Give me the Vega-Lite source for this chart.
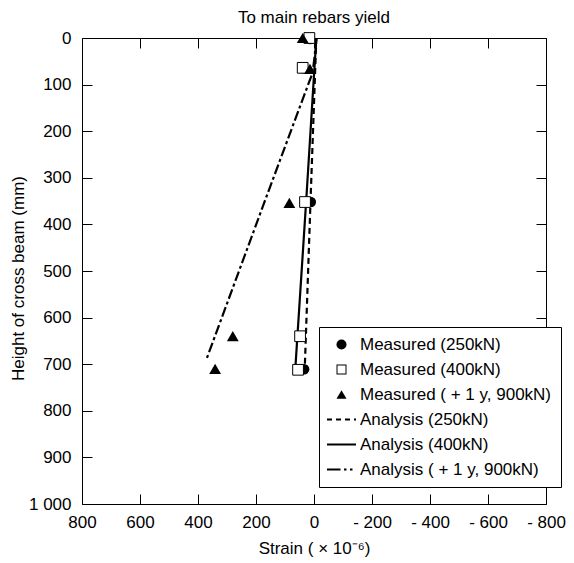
{
  "$schema": "https://vega.github.io/schema/vega-lite/v6.json",
  "width": 464,
  "height": 466,
  "autosize": "none",
  "padding": {"left": 82, "top": 38, "right": 28, "bottom": 59},
  "background": "white",
  "title": {"text": "To main rebars yield", "font": "Liberation Sans", "fontSize": 17, "fontWeight": "normal", "color": "black", "anchor": "middle", "offset": 2},
  "config": {
    "view": {"stroke": null},
    "axis": {"domainColor": "black", "tickColor": "black", "labelColor": "black", "titleColor": "black", "labelFont": "Liberation Sans", "titleFont": "Liberation Sans", "labelFontSize": 17, "titleFontSize": 17, "titleFontWeight": "normal", "grid": false, "tickSize": -10, "domainWidth": 1, "tickWidth": 1, "labelFlush": false}
  },
  "datasets": {
    "analysis": [
      {"series": "Analysis (250kN)", "strain": -8, "h": 0},
      {"series": "Analysis (250kN)", "strain": 12, "h": 350},
      {"series": "Analysis (250kN)", "strain": 32, "h": 712},
      {"series": "Analysis (400kN)", "strain": -8, "h": 0},
      {"series": "Analysis (400kN)", "strain": 27, "h": 350},
      {"series": "Analysis (400kN)", "strain": 64, "h": 705},
      {"series": "Analysis ( + 1 y, 900kN)", "strain": -8, "h": 0},
      {"series": "Analysis ( + 1 y, 900kN)", "strain": -2, "h": 40},
      {"series": "Analysis ( + 1 y, 900kN)", "strain": 5, "h": 75},
      {"series": "Analysis ( + 1 y, 900kN)", "strain": 31, "h": 118},
      {"series": "Analysis ( + 1 y, 900kN)", "strain": 172, "h": 354},
      {"series": "Analysis ( + 1 y, 900kN)", "strain": 370, "h": 688}
    ],
    "measured": [
      {"series": "Measured (250kN)", "strain": 14, "h": 2},
      {"series": "Measured (250kN)", "strain": 38, "h": 65},
      {"series": "Measured (250kN)", "strain": 11, "h": 352},
      {"series": "Measured (250kN)", "strain": 47, "h": 640},
      {"series": "Measured (250kN)", "strain": 34, "h": 711},
      {"series": "Measured (400kN)", "strain": 16, "h": 0},
      {"series": "Measured (400kN)", "strain": 39, "h": 64},
      {"series": "Measured (400kN)", "strain": 31, "h": 352},
      {"series": "Measured (400kN)", "strain": 48, "h": 640},
      {"series": "Measured (400kN)", "strain": 55, "h": 712},
      {"series": "Measured ( + 1 y, 900kN)", "strain": 39, "h": 0},
      {"series": "Measured ( + 1 y, 900kN)", "strain": 14, "h": 66},
      {"series": "Measured ( + 1 y, 900kN)", "strain": 85, "h": 354},
      {"series": "Measured ( + 1 y, 900kN)", "strain": 280, "h": 640},
      {"series": "Measured ( + 1 y, 900kN)", "strain": 341, "h": 710}
    ]
  },
  "resolve": {"axis": {"x": "independent", "y": "independent"}},
  "layer": [
    {
      "data": {"name": "analysis"},
      "mark": {"type": "line", "stroke": "black", "strokeWidth": 2.2},
      "encoding": {
        "x": {"field": "strain", "type": "quantitative", "scale": {"domain": [-800, 800], "reverse": true},
          "axis": {"orient": "bottom", "values": [-800, -600, -400, -200, 0, 200, 400, 600, 800], "labelExpr": "datum.value < 0 ? '- ' + (-datum.value) : '' + datum.value", "title": "Strain ( × 10⁻⁶)", "labelPadding": 20, "titlePadding": 10}},
        "y": {"field": "h", "type": "quantitative", "scale": {"domain": [0, 1000], "reverse": true},
          "axis": {"orient": "left", "values": [0, 100, 200, 300, 400, 500, 600, 700, 800, 900, 1000], "labelExpr": "datum.value == 1000 ? '1 000' : '' + datum.value", "title": "Height of cross beam   (mm)", "labelPadding": 21, "titleX": -55, "titleY": 240}},
        "strokeDash": {"field": "series", "type": "nominal",
          "scale": {"domain": ["Analysis (250kN)", "Analysis (400kN)", "Analysis ( + 1 y, 900kN)"],
            "range": [[6, 4], [1, 0], [10, 3, 3, 3]]},
          "legend": null},
        "order": {"field": "h", "type": "quantitative"}
      }
    },
    {
      "data": {"name": "measured"},
      "transform": [{"filter": "datum.series == 'Measured (250kN)'"}],
      "mark": {"type": "point", "filled": true, "color": "black", "strokeWidth": 0, "size": 110, "opacity": 1},
      "encoding": {
        "x": {"field": "strain", "type": "quantitative",
          "axis": {"orient": "top", "values": [-800, -600, -400, -200, 0, 200, 400, 600, 800], "labels": false, "title": null}},
        "y": {"field": "h", "type": "quantitative",
          "axis": {"orient": "right", "values": [0, 100, 200, 300, 400, 500, 600, 700, 800, 900, 1000], "labels": false, "title": null}},
        "shape": {"field": "series", "type": "nominal",
          "scale": {"domain": ["Measured (250kN)", "Measured (400kN)", "Measured ( + 1 y, 900kN)", "Analysis (250kN)", "Analysis (400kN)", "Analysis ( + 1 y, 900kN)"],
            "range": ["circle", "M-1,-1H1V1H-1Z M-0.8,-0.8V0.8H0.8V-0.8Z", "triangle-up", "M-2.9,-0.22H-1.9V0.22H-2.9Z M-1.1,-0.22H-0.1V0.22H-1.1Z M0.7,-0.22H1.7V0.22H0.7Z M2.5,-0.22H2.9V0.22H2.5Z", "M-2.9,-0.2H2.9V0.2H-2.9Z", "M-2.9,-0.2H-0.2V0.2H-2.9Z M0.5,-0.2H1.0V0.2H0.5Z M1.7,-0.2H2.2V0.2H1.7Z"]},
          "legend": {"orient": "none", "legendX": 237, "legendY": 289, "title": null, "padding": 9, "strokeColor": "black", "fillColor": "white", "labelFont": "Liberation Sans", "labelFontSize": 17, "labelColor": "black", "labelLimit": 210, "symbolSize": 100, "symbolStrokeWidth": 0, "rowPadding": 7, "labelOffset": 10, "symbolOffset": 5}}
      }
    },
    {
      "data": {"name": "measured"},
      "transform": [{"filter": "datum.series == 'Measured (400kN)'"}],
      "mark": {"type": "point", "shape": "square", "filled": true, "fill": "white", "stroke": "black", "strokeWidth": 1, "size": 115, "opacity": 1},
      "encoding": {
        "x": {"field": "strain", "type": "quantitative", "axis": null},
        "y": {"field": "h", "type": "quantitative", "axis": null}
      }
    },
    {
      "data": {"name": "measured"},
      "transform": [{"filter": "datum.series == 'Measured ( + 1 y, 900kN)'"}],
      "mark": {"type": "point", "filled": true, "color": "black", "strokeWidth": 0, "size": 140, "opacity": 1},
      "encoding": {
        "x": {"field": "strain", "type": "quantitative", "axis": null},
        "y": {"field": "h", "type": "quantitative", "axis": null},
        "shape": {"field": "series", "type": "nominal",
          "scale": {"domain": ["Measured (250kN)", "Measured (400kN)", "Measured ( + 1 y, 900kN)", "Analysis (250kN)", "Analysis (400kN)", "Analysis ( + 1 y, 900kN)"],
            "range": ["circle", "M-1,-1H1V1H-1Z M-0.8,-0.8V0.8H0.8V-0.8Z", "triangle-up", "M-2.9,-0.22H-1.9V0.22H-2.9Z M-1.1,-0.22H-0.1V0.22H-1.1Z M0.7,-0.22H1.7V0.22H0.7Z M2.5,-0.22H2.9V0.22H2.5Z", "M-2.9,-0.2H2.9V0.2H-2.9Z", "M-2.9,-0.2H-0.2V0.2H-2.9Z M0.5,-0.2H1.0V0.2H0.5Z M1.7,-0.2H2.2V0.2H1.7Z"]}}
      }
    }
  ]
}
